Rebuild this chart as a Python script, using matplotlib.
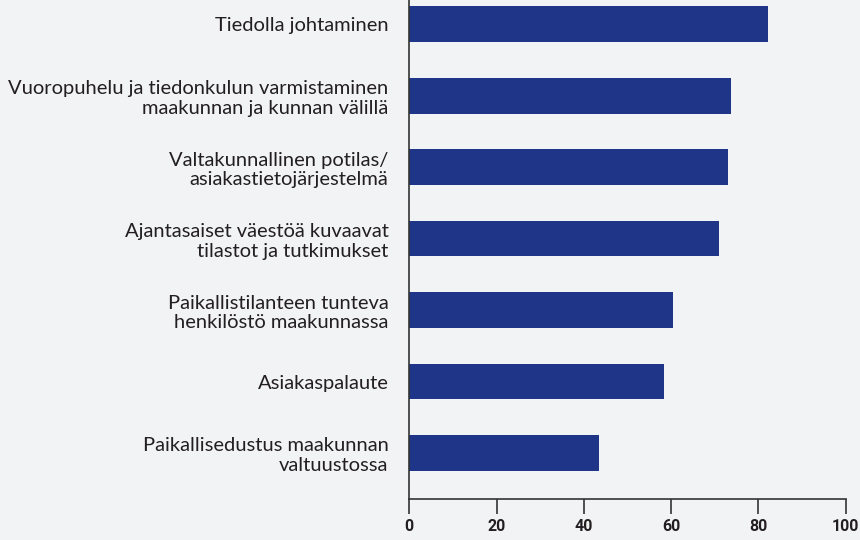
import matplotlib
matplotlib.use("Agg")
import matplotlib.pyplot as plt

# Vastausten osuudet (%), alhaalta ylös
labels = [
    "Paikallisedustus maakunnan\nvaltuustossa",
    "Asiakaspalaute",
    "Paikallistilanteen tunteva\nhenkilöstö maakunnassa",
    "Ajantasaiset väestöä kuvaavat\ntilastot ja tutkimukset",
    "Valtakunnallinen potilas/\nasiakastietojärjestelmä",
    "Vuoropuhelu ja tiedonkulun varmistaminen\nmaakunnan ja kunnan välillä",
    "Tiedolla johtaminen",
]
values = [43.5, 58.4, 60.4, 71.0, 73.0, 73.7, 82.2]
xticks = [0, 20, 40, 60, 80, 100]

bg = "#f2f3f5"
bar_color = "#1f3587"
text_color = "#231f20"

plt.rcParams["font.family"] = ["Lato", "DejaVu Sans"]

fig = plt.figure(figsize=(8.6, 5.4), dpi=100, facecolor=bg)
ax = fig.add_axes([409.3 / 860, 41.3 / 540, (845.7 - 409.3) / 860, 1 - 41.3 / 540])
ax.set_facecolor(bg)

ax.barh(range(len(values)), values, height=0.5, color=bar_color)

ax.set_xlim(0, 100)
ax.set_ylim(-0.64, 6.34)
ax.set_xticks(xticks)
ax.set_xticklabels([str(t) for t in xticks], fontsize=11.5, fontweight="bold",
                   family=["Roboto", "DejaVu Sans"], color=text_color)
ax.set_yticks(range(len(labels)))
ax.set_yticklabels(labels, fontsize=14.5, color=text_color, linespacing=1.2)

ax.tick_params(axis="x", direction="out", length=10.5, width=1.2, color="#333333", pad=4)
ax.tick_params(axis="y", length=0, pad=15)

for side in ["top", "right"]:
    ax.spines[side].set_visible(False)
for side in ["left", "bottom"]:
    ax.spines[side].set_color("#333333")
    ax.spines[side].set_linewidth(1.2)

fig.savefig("out.png", dpi=100, facecolor=bg)
